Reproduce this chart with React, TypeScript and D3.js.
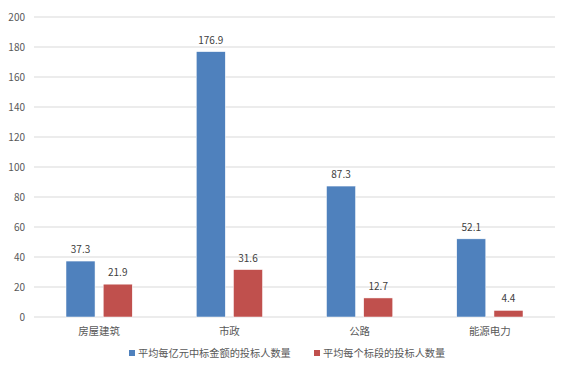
import React from "react";
import * as d3 from "d3";

const width = 572;
const height = 367;
const margin = { top: 17, right: 17, bottom: 50, left: 34 };

const categories = ["房屋建筑", "市政", "公路", "能源电力"];
const seriesNames = ["平均每亿元中标金额的投标人数量", "平均每个标段的投标人数量"];
const perYiValues = [37.3, 176.9, 87.3, 52.1];
const perSectionValues = [21.9, 31.6, 12.7, 4.4];
const colors = ["#4F81BD", "#C0504D"];
const yTicks = [0, 20, 40, 60, 80, 100, 120, 140, 160, 180, 200];

const font = "'Noto Sans CJK SC', 'Microsoft YaHei', sans-serif";

export default function App() {
  const x = d3
    .scaleBand()
    .domain(categories)
    .range([margin.left, width - margin.right])
    .paddingInner(0)
    .paddingOuter(0);

  // 两个系列在每个分类内的位置
  const inner = d3
    .scaleBand()
    .domain(seriesNames)
    .range([32, x.bandwidth() - 32])
    .paddingInner(0.22);

  const y = d3
    .scaleLinear()
    .domain([0, 200])
    .range([height - margin.bottom, margin.top]);

  const series = [perYiValues, perSectionValues];

  return (
    <svg
      width={width}
      height={height}
      style={{ position: "absolute", left: 0, top: 0, background: "#fff" }}
    >
      {yTicks.map((t) => (
        <g key={t}>
          <line
            x1={margin.left}
            x2={width - margin.right}
            y1={y(t)}
            y2={y(t)}
            stroke="#D9D9D9"
            strokeWidth={1}
          />
          <text
            x={25}
            y={y(t)}
            dy="0.35em"
            textAnchor="end"
            fontSize={10}
            fontFamily={font}
            fill="#595959"
          >
            {t}
          </text>
        </g>
      ))}

      {categories.map((c, ci) => (
        <g key={c}>
          {series.map((vals, si) => {
            const bx = (x(c) as number) + (inner(seriesNames[si]) as number);
            const v = vals[ci];
            return (
              <g key={si}>
                <rect
                  x={bx}
                  y={y(v)}
                  width={inner.bandwidth()}
                  height={y(0) - y(v)}
                  fill={colors[si]}
                  stroke="#fff"
                  strokeWidth={0.5}
                />
                <text
                  x={bx + inner.bandwidth() / 2}
                  y={y(v) - 8}
                  textAnchor="middle"
                  fontSize={10}
                  fontFamily={font}
                  fill="#404040"
                >
                  {v}
                </text>
              </g>
            );
          })}
          <text
            x={(x(c) as number) + x.bandwidth() / 2}
            y={y(0) + 14}
            dy="0.35em"
            textAnchor="middle"
            fontSize={10.5}
            fontFamily={font}
            fill="#595959"
          >
            {c}
          </text>
        </g>
      ))}

      {seriesNames.map((s, i) => {
        const lx = i === 0 ? 129 : 314;
        return (
          <g key={s} transform={`translate(${lx},353)`}>
            <rect x={0} y={-3} width={6} height={6} fill={colors[i]} />
            <text
              x={9}
              y={0}
              dy="0.35em"
              fontSize={10.2}
              fontFamily={font}
              fill="#595959"
            >
              {s}
            </text>
          </g>
        );
      })}
    </svg>
  );
}
